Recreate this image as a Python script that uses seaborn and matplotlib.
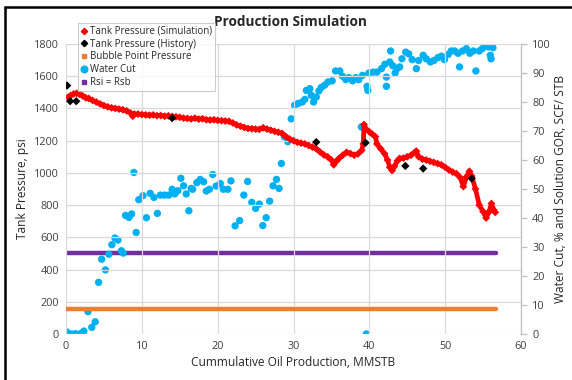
import matplotlib
matplotlib.use("Agg")
import matplotlib.pyplot as plt
from matplotlib.lines import Line2D
import seaborn as sns
import pandas as pd

# Tank pressure from the simulation run (MMSTB, psi)
sim_np = [0.3, 0.6, 1.0, 1.4, 1.8, 2.2, 2.6, 3.0, 3.5, 4.0, 4.5, 5.0, 5.5, 6.0, 6.5,
          7.0, 7.5, 8.0, 8.5, 8.8, 9.0, 9.5, 10.0, 10.5, 11.0, 11.5, 12.0, 12.5, 13.0,
          13.5, 14.0, 14.5, 15.0, 15.5, 16.0, 16.5, 17.0, 17.5, 18.0, 18.5, 19.0, 19.5,
          20.0, 20.5, 21.0, 21.5, 22.0, 22.5, 23.0, 23.5, 24.0, 24.5, 25.0, 25.5, 26.0,
          26.5, 27.0, 27.5, 28.0, 28.5, 29.0, 29.5, 30.0, 30.5, 31.0, 31.5, 32.0, 32.5,
          33.0, 33.5, 34.0, 34.5, 35.0, 35.3, 35.6, 36.0, 36.5, 37.0, 37.5, 38.0, 38.5,
          39.0, 39.2, 39.3, 39.6, 40.0, 40.4, 40.8, 41.0, 41.5, 42.0, 42.4, 42.7, 43.0,
          43.3, 43.7, 44.0, 44.5, 45.0, 45.5, 46.0, 46.2, 46.5, 47.0, 47.5, 48.0, 48.5,
          49.0, 49.5, 50.0, 50.5, 51.0, 51.5, 52.0, 52.4, 52.8, 53.2, 53.5, 54.0, 54.5,
          55.0, 55.4, 55.8, 56.1, 56.4, 56.6]
sim_psi = [1470, 1480, 1490, 1494, 1488, 1478, 1466, 1462, 1450, 1440, 1428, 1418, 1410,
           1404, 1400, 1396, 1392, 1385, 1372, 1352, 1365, 1365, 1362, 1360, 1358, 1360,
           1355, 1356, 1352, 1354, 1350, 1348, 1345, 1340, 1338, 1335, 1340, 1334, 1336,
           1330, 1328, 1330, 1326, 1324, 1322, 1320, 1310, 1298, 1290, 1282, 1276, 1274,
           1272, 1270, 1280, 1272, 1265, 1258, 1252, 1245, 1225, 1210, 1200, 1190, 1185,
           1180, 1170, 1160, 1150, 1130, 1112, 1100, 1080, 1050, 1070, 1090, 1110, 1128,
           1120, 1110, 1118, 1140, 1180, 1300, 1270, 1255, 1240, 1225, 1180, 1150, 1120,
           1080, 1035, 1015, 1040, 1075, 1090, 1092, 1100, 1110, 1128, 1135, 1100, 1085,
           1080, 1072, 1065, 1058, 1050, 1035, 1018, 1005, 995, 970, 915, 975, 1010, 980,
           900, 800, 760, 720, 760, 810, 770, 755]

# Measured tank pressure history
hist_np = [0.15, 0.55, 1.35, 14.0, 33.0, 39.5, 44.75, 47.1, 53.5]
hist_psi = [1542, 1445, 1445, 1340, 1191, 1187, 1043, 1027, 965]

# Water cut, % (right axis)
wc_np = [0.1, 0.7, 1.25, 1.9, 2.35, 2.9, 3.4, 3.85, 4.3, 4.7, 5.2, 5.65, 6.05, 6.45, 6.85,
         7.3, 7.55, 7.85, 8.3, 8.65, 8.95, 9.25, 9.6, 10.15, 10.6, 11.1, 11.6, 12.05,
         12.45, 13.0, 13.55, 14.0, 14.35, 14.75, 15.15, 15.5, 15.85, 16.2, 16.5, 16.7,
         17.25, 17.7, 18.15, 18.5, 18.9, 19.35, 19.8, 20.35, 20.75, 21.35, 21.75, 22.3,
         22.9, 23.45, 23.95, 24.5, 25.0, 25.5, 25.95, 26.4, 26.85, 27.3, 27.75, 28.1,
         28.4, 28.8, 29.25, 29.7, 30.15, 30.6, 31.15, 31.5, 31.7, 32.15, 32.35, 32.65,
         33.0, 33.35, 33.65, 34.1, 34.55, 35.1, 35.55, 36.1, 36.45, 36.9, 37.3, 37.8,
         38.2, 38.6, 38.95, 39.1, 39.6, 39.7, 39.8, 39.95, 40.5, 41.0, 41.6, 42.05,
         42.25, 42.25, 42.7, 42.8, 43.1, 43.4, 43.65, 44.0, 44.3, 44.8, 45.2, 45.65,
         46.2, 46.5, 47.1, 47.5, 48.05, 48.5, 49.05, 49.5, 49.9, 50.4, 50.8, 51.25,
         51.7, 51.9, 52.3, 52.8, 53.25, 53.7, 54.05, 54.5, 54.9, 55.2, 55.4, 55.7,
         55.95, 56.05, 56.3]
wc_pct = [0.7, 0.0, 0.1, 0.1, 1.0, 7.7, 2.3, 4.2, 17.8, 25.8, 22.1, 27.5, 30.8, 33.1, 32.4,
          28.7, 27.9, 40.9, 40.2, 41.4, 55.7, 35.0, 46.3, 47.7, 40.1, 48.5, 47.1, 41.6,
          47.9, 47.9, 47.9, 49.9, 48.3, 49.4, 53.7, 51.1, 48.3, 42.5, 50.2, 49.9,
          52.2, 53.3, 52.5, 49.3, 49.9, 55.0, 51.0, 51.9, 49.9, 49.9, 52.8, 37.3,
          39.1, 47.9, 52.6, 45.4, 43.3, 44.8, 37.4, 40.1, 45.8, 51.1, 53.3, 50.2,
          58.8, 68.0, 66.3, 74.2, 78.9, 79.5, 80.0, 80.9, 84.0, 84.6, 82.3, 80.0,
          81.7, 83.8, 85.0, 85.8, 86.9, 87.3, 90.7, 90.7, 88.9, 87.7, 88.4, 87.3,
          88.4, 87.7, 71.4, 89.2, 0.0, 85.4, 84.0, 90.0, 90.3, 90.3, 91.5, 93.0,
          88.6, 85.4, 93.8, 97.6, 92.5, 90.0, 91.5, 92.1, 94.9, 97.2, 96.6, 94.6,
          91.5, 94.3, 96.1, 94.9, 93.8, 94.3, 95.3, 95.8, 94.6, 96.4, 97.6, 97.6,
          96.8, 92.1, 97.6, 98.4, 96.8, 97.6, 90.7, 97.6, 98.4, 99.9, 99.5, 99.0,
          96.1, 94.9, 98.7]

# Reference levels
bp_np = [0.0, 56.7]
bp_psi = [157, 157]
rsi_np = [0.0, 56.7]
rsi_scf = [28, 28]

RED = "#FF0000"
BLUE = "#00B0F0"
ORANGE = "#ED7D31"
PURPLE = "#7030A0"
GRID = "#D9D9D9"

sns.set_theme(style="white")
plt.rcParams["font.family"] = ["Open Sans", "DejaVu Sans"]
plt.rcParams["text.color"] = "#262626"
plt.rcParams["axes.labelcolor"] = "#262626"

fig = plt.figure(figsize=(5.72, 3.80), dpi=100)
W, H = 572, 380
ax = fig.add_axes([66 / W, 1 - 334 / H, (521 - 66) / W, (334 - 44) / H])
ax2 = ax.twinx()

sim = pd.DataFrame({"np": sim_np, "psi": sim_psi})
hist = pd.DataFrame({"np": hist_np, "psi": hist_psi})
wc = pd.DataFrame({"np": wc_np, "pct": wc_pct})

# Reference lines
sns.lineplot(x=bp_np, y=bp_psi, ax=ax, color=ORANGE, lw=3.2, zorder=2)
sns.lineplot(x=rsi_np, y=rsi_scf, ax=ax2, color=PURPLE, lw=3.2, zorder=2)

# Water cut on right axis
sns.scatterplot(data=wc, x="np", y="pct", ax=ax2, color=BLUE, s=28, edgecolor="none",
                zorder=3)

# Simulated pressure: dense diamonds along a thick trace
sns.lineplot(data=sim, x="np", y="psi", ax=ax, sort=False, estimator=None,
             color=RED, lw=3.4, zorder=4)
sns.scatterplot(data=sim, x="np", y="psi", ax=ax, color=RED, marker="D", s=16,
                edgecolor="none", zorder=4)
sns.scatterplot(data=hist, x="np", y="psi", ax=ax, color="black", marker="D", s=18,
                edgecolor="none", zorder=5)

# Draw the twin axis behind the primary one so red sits on top of blue
ax.set_zorder(ax2.get_zorder() + 1)
ax.patch.set_visible(False)

ax.set_xlim(0, 60)
ax.set_ylim(0, 1800)
ax2.set_ylim(0, 100)
ax.set_xticks(range(0, 61, 10))
ax.set_yticks(range(0, 1801, 200))
ax2.set_yticks(range(0, 101, 10))

ax.grid(True, color=GRID, lw=0.9)
ax2.grid(False)
for a in (ax, ax2):
    for s in a.spines.values():
        s.set_visible(False)
ax2.spines["right"].set_visible(True)
ax2.spines["right"].set_color("#BFBFBF")
ax2.spines["right"].set_linewidth(0.9)

ax.tick_params(axis="both", length=0, labelsize=7.8, colors="#404040", pad=5)
ax2.tick_params(axis="y", length=4, width=0.9, color="#BFBFBF", labelsize=7.8,
                labelcolor="#404040", pad=4)

ax.set_xlabel("Cummulative Oil Production, MMSTB", fontsize=8.6, labelpad=3)
ax.set_ylabel("Tank Pressure, psi", fontsize=8.6, labelpad=4)
ax2.set_ylabel("Water Cut, % and Solution GOR, SCF/ STB", fontsize=8.6, labelpad=2)

fig.text(290 / W, 1 - 22 / H, "Production Simulation", ha="center", va="center",
         fontsize=9.8, fontweight="bold", color="#262626")

handles = [
    Line2D([], [], ls="none", marker="D", color=RED, markersize=3.2),
    Line2D([], [], ls="none", marker="D", color="black", markersize=3.2),
    Line2D([], [], ls="none", marker="s", color=ORANGE, markersize=3.2),
    Line2D([], [], ls="none", marker="o", color=BLUE, markersize=4.8),
    Line2D([], [], ls="none", marker="s", color=PURPLE, markersize=3.2),
]
labels = ["Tank Pressure (Simulation)", "Tank Pressure (History)",
          "Bubble Point Pressure", "Water Cut", "Rsi = Rsb"]
leg = fig.legend(handles, labels, loc="upper left",
                 bbox_to_anchor=(78 / W, 1 - 23 / H), fontsize=7, frameon=True,
                 fancybox=False, handlelength=0.6, handletextpad=0.3,
                 borderpad=0.3, labelspacing=0.18, borderaxespad=0)
leg.get_frame().set_edgecolor("#BFBFBF")
leg.get_frame().set_linewidth(0.8)
leg.set_zorder(10)

# Frame along the top and left edges
fig.add_artist(Line2D([5 / W, 5 / W], [0, 1 - 7 / H], color="black", lw=1.8,
                      transform=fig.transFigure))
fig.add_artist(Line2D([5 / W, 1], [1 - 7 / H, 1 - 7 / H], color="black", lw=1.8,
                      transform=fig.transFigure))

fig.savefig("out.png", dpi=100)
